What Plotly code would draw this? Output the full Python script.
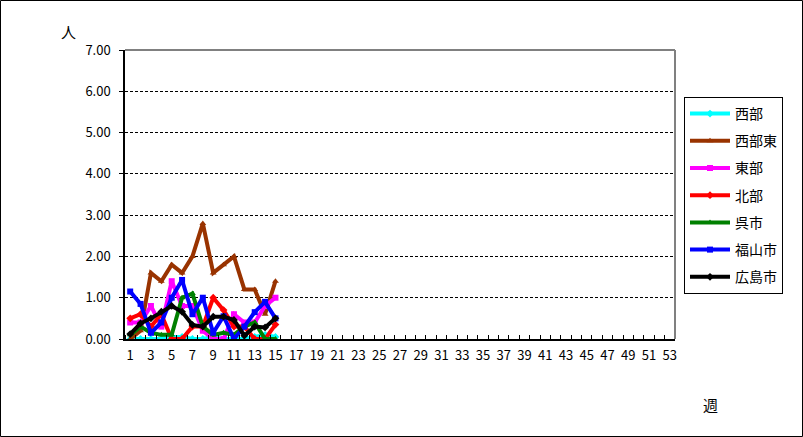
import plotly.graph_objects as go

weeks = list(range(1, 16))
series_names = ["西部", "西部東", "東部", "北部", "呉市", "福山市", "広島市"]
seibu      = [0, 0, 0, 0, 0.05, 0.05, 0, 0, 0.05, 0, 0, 0, 0.05, 0.1, 0.05]
seibu_higashi = [0, 0.2, 1.6, 1.4, 1.8, 1.6, 2.0, 2.8, 1.6, 1.8, 2.0, 1.2, 1.2, 0.6, 1.4]
toubu      = [0.4, 0.4, 0.8, 0.3, 1.4, 0.8, 0.8, 0.2, 0, 0, 0.6, 0.4, 0.4, 0.8, 1.0]
hokubu     = [0.5, 0.6, 0.3, 0.6, 0, 0, 0.3, 0.3, 1.0, 0.7, 0.3, 0.3, 0, 0, 0.35]
kure       = [0.1, 0.3, 0.15, 0.1, 0.1, 1.0, 1.1, 0.3, 0.1, 0.15, 0.1, 0.3, 0.4, 0, 0]
fukuyama   = [1.15, 0.85, 0.15, 0.4, 1.0, 1.43, 0.6, 1.0, 0.15, 0.55, 0, 0.3, 0.65, 0.9, 0.5]
hiroshima  = [0.12, 0.38, 0.5, 0.66, 0.8, 0.66, 0.34, 0.3, 0.54, 0.54, 0.46, 0.08, 0.3, 0.28, 0.5]
series_values = [seibu, seibu_higashi, toubu, hokubu, kure, fukuyama, hiroshima]
colors = ["#00FFFF", "#993300", "#FF00FF", "#FF0000", "#008000", "#0000FF", "#000000"]
symbols = ["diamond", "triangle-up", "square", "diamond", "triangle-up", "square", "diamond"]
x_tick_labels = [str(v) for v in range(1, 54, 2)]
y_ticks = [0, 1, 2, 3, 4, 5, 6, 7]

font = "Noto Sans CJK JP"
fig = go.Figure()
for i, (name, vals, col, sym) in enumerate(zip(series_names, series_values, colors, symbols)):
    fig.add_trace(go.Scatter(
        x=weeks, y=vals, name=name, mode="lines+markers",
        line=dict(color=col, width=4),
        marker=dict(symbol=sym, size=6, color=col),
        legendgroup=f"g{i}",
    ))

L, R, T, B = 125, 675, 50, 339
W, H = 803, 437
pw, ph = R - L, B - T

def px(xp):
    return (xp - L) / pw

def py(yp):
    return (B - yp) / ph

fig.update_layout(
    width=W, height=H,
    margin=dict(l=L, r=W - R, t=T, b=H - B, pad=0),
    paper_bgcolor="white", plot_bgcolor="white",
    font=dict(family=font, size=13, color="black"),
    showlegend=True,
    legend=dict(
        x=px(684), y=py(97), xanchor="left", yanchor="top",
        bordercolor="black", borderwidth=1, bgcolor="white",
        font=dict(family=font, size=14), tracegroupgap=6,
        itemwidth=40,
    ),
    xaxis=dict(
        range=[0.5, 53.5], tickmode="array",
        tickvals=list(range(1, 54, 2)), ticktext=x_tick_labels,
        ticks="", showgrid=False, zeroline=False,
        showline=True, linecolor="black", linewidth=1.5,
        tickfont=dict(family=font, size=13), ticklabelstandoff=4,
        minor=dict(ticks="inside", tick0=0.5, dtick=1, ticklen=4, tickcolor="black", showgrid=False),
    ),
    yaxis=dict(
        range=[0, 7], tickmode="array", tickvals=y_ticks,
        ticktext=[f"{v:.2f}" for v in y_ticks],
        ticks="outside", ticklen=4, tickcolor="black",
        showgrid=True, gridcolor="black", griddash="3px,2px", gridwidth=1,
        zeroline=False, showline=True, linecolor="black", linewidth=1.5,
        tickfont=dict(family=font, size=13), ticklabelstandoff=6,
    ),
    shapes=[
        dict(type="line", xref="paper", yref="paper", x0=0, x1=1, y0=1, y1=1,
             line=dict(color="#808080", width=2)),
        dict(type="line", xref="paper", yref="paper", x0=1, x1=1, y0=0, y1=1,
             line=dict(color="#808080", width=2)),
        dict(type="rect", xref="paper", yref="paper", x0=px(0.5), x1=px(802.5),
             y0=py(436.5), y1=py(0.5), line=dict(color="black", width=1)),
    ],
    annotations=[
        dict(text="人", xref="paper", yref="paper", x=px(68), y=py(31),
             xanchor="center", yanchor="middle",
             showarrow=False, font=dict(family=font, size=15)),
        dict(text="週", xref="paper", yref="paper", x=px(710), y=py(404),
             xanchor="center", yanchor="middle",
             showarrow=False, font=dict(family=font, size=15)),
    ],
)
fig.write_html("out.html", config={"displayModeBar": False},
               post_script="document.body.style.margin='0px';")
